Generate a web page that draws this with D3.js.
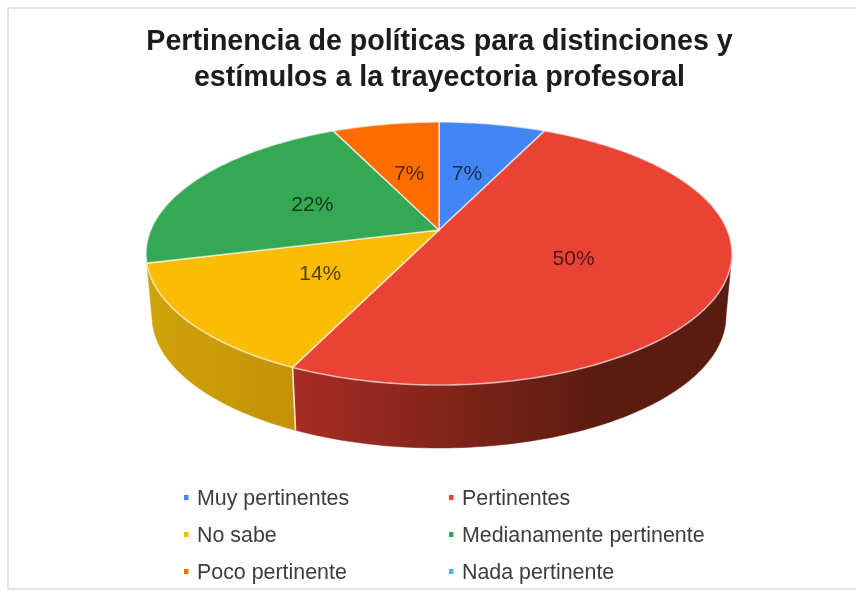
<!DOCTYPE html>
<html>
  <head>
    <meta charset="utf-8">
    <title>Pertinencia de políticas</title>
    <style type="text/css">
      body{ margin: 0; background: #fff; }
      text{ font-family: "Liberation Sans", Arial, sans-serif; }
    </style>
    <script src="https://d3js.org/d3.v7.min.js"></script>
  </head>
  <body>
    <svg class="chart"></svg>
    <script>

// chart values
var categories = ["Muy pertinentes", "Pertinentes", "No sabe", "Medianamente pertinente", "Poco pertinente", "Nada pertinente"];
var percents = [7, 50, 14, 22, 7, 0];
var colors = ["#4285f4", "#ea4335", "#fbbc04", "#34a853", "#ff6d01", "#46bdc6"];
var titleLines = ["Pertinencia de políticas para distinciones y", "estímulos a la trayectoria profesoral"];

var width = 856, height = 592;

var svg = d3.select(".chart")
    .attr("width", width)
    .attr("height", height)
    .style("display", "block");

// frame of the chart object
svg.append("path")
    .attr("d", "M856,8H8V589H856")
    .attr("fill", "none")
    .attr("stroke", "#dcdcdc")
    .attr("stroke-width", 1.5);

// soft look of the scanned picture
var defs = svg.append("defs");
defs.append("filter").attr("id", "soft")
  .append("feGaussianBlur").attr("stdDeviation", 0.5);

// title
svg.selectAll(".title")
  .data(titleLines)
  .enter().append("text")
    .attr("class", "title")
    .attr("x", 439.5)
    .attr("y", function(d, i) { return 50 + i * 36; })
    .attr("text-anchor", "middle")
    .attr("font-size", 28.6)
    .attr("font-weight", "bold")
    .attr("fill", "#1a1a1a")
    .attr("filter", "url(#soft)")
    .text(function(d) { return d; });

// unit disc -> screen, top ellipse and the lower one of the side wall
var xTop = d3.scaleLinear().domain([-1, 1]).range([146, 732]);
var yTop = d3.scaleLinear().domain([-1, 1]).range([122, 385]);
var xBottom = d3.scaleLinear().domain([-1, 1]).range([152, 726]);
var yBottom = d3.scaleLinear().domain([-1, 1]).range([184, 448]);

// perspective: the centre of the pie sits above the centre of the ellipse
var shift = 0.179;
function project(angle, r) {
  var x = r * Math.sin(angle), y = -r * Math.cos(angle);
  var k = 1 - shift * y;
  return [x * Math.sqrt(1 - shift * shift) / k, (y - shift) / k];
}
function arcPoints(a0, a1) {
  var n = Math.max(2, Math.ceil((a1 - a0) * 60)), out = [];
  for (var i = 0; i <= n; i++) out.push(project(a0 + (a1 - a0) * i / n, 1));
  return out;
}

var pie = d3.pie().sort(null).value(function(d) { return d; });
var slices = pie(percents);

var lineTop = d3.line().x(function(p) { return xTop(p[0]); }).y(function(p) { return yTop(p[1]); });
var lineBottom = d3.line().x(function(p) { return xBottom(p[0]); }).y(function(p) { return yBottom(p[1]); });

// side wall shading
var redGrad = defs.append("linearGradient").attr("id", "sideRed")
    .attr("gradientUnits", "userSpaceOnUse")
    .attr("x1", 292).attr("x2", 600).attr("y1", 0).attr("y2", 0);
redGrad.append("stop").attr("offset", 0).attr("stop-color", "#a92c24");
redGrad.append("stop").attr("offset", 1).attr("stop-color", "#5a1c10");
var yellowGrad = defs.append("linearGradient").attr("id", "sideYellow")
    .attr("gradientUnits", "userSpaceOnUse")
    .attr("x1", 150).attr("x2", 292).attr("y1", 0).attr("y2", 0);
yellowGrad.append("stop").attr("offset", 0).attr("stop-color", "#cea208");
yellowGrad.append("stop").attr("offset", 1).attr("stop-color", "#c49208");

var sideFill = {"Pertinentes": "url(#sideRed)", "No sabe": "url(#sideYellow)"};
var frontStart = Math.acos(-shift);

slices.forEach(function(s, i) {
  if (!sideFill[categories[i]]) return;
  var pts = arcPoints(Math.max(s.startAngle, frontStart), s.endAngle);
  var d = lineTop(pts) + "L" + lineBottom(pts.slice().reverse()).slice(1) + "Z";
  svg.append("path")
      .attr("d", d)
      .attr("fill", sideFill[categories[i]])
      .attr("stroke", sideFill[categories[i]])
      .attr("stroke-width", 0.5);
});

// seam between the yellow and the red wall
var seam = project(slices[1].endAngle, 1);
svg.append("line")
    .attr("x1", xTop(seam[0])).attr("y1", yTop(seam[1]))
    .attr("x2", xBottom(seam[0])).attr("y2", yBottom(seam[1]))
    .attr("stroke", "#fbe3cf")
    .attr("stroke-width", 1.6);

// top face
var apex = project(0, 0);
svg.selectAll(".slice")
  .data(slices.filter(function(s) { return s.value > 0; }))
  .enter().append("path")
    .attr("class", "slice")
    .attr("fill", function(d) { return colors[d.index]; })
    .attr("stroke", "#fff")
    .attr("stroke-opacity", 0.6)
    .attr("stroke-width", 1.6)
    .attr("stroke-linejoin", "round")
    .attr("d", function(d) {
      return lineTop([apex].concat(arcPoints(d.startAngle, d.endAngle))) + "Z";
    });

// percent labels halfway along the radius
svg.selectAll(".pct")
  .data(slices.filter(function(s) { return s.value > 0; }))
  .enter().append("text")
    .attr("class", "pct")
    .attr("x", function(d) { return xTop(project((d.startAngle + d.endAngle) / 2, 0.5)[0]) - 1; })
    .attr("y", function(d) { return yTop(project((d.startAngle + d.endAngle) / 2, 0.5)[1]) + 7; })
    .attr("text-anchor", "middle")
    .attr("font-size", 21)
    .attr("fill", "#000")
    .attr("fill-opacity", 0.68)
    .attr("filter", "url(#soft)")
    .text(function(d) { return d.value + "%"; });

// legend, two columns
var legendX = d3.scalePoint().domain([0, 1]).range([186, 451]);
var legendY = d3.scalePoint().domain([0, 1, 2]).range([498, 572]);

var legend = svg.selectAll(".legend")
  .data(categories)
  .enter().append("g")
    .attr("class", "legend")
    .attr("transform", function(d, i) {
      return "translate(" + legendX(i % 2) + "," + legendY(Math.floor(i / 2)) + ")";
    });

legend.append("rect")
    .attr("x", -2)
    .attr("y", -3)
    .attr("width", 4.5)
    .attr("height", 5)
    .attr("fill", function(d, i) { return colors[i]; })
    .attr("filter", "url(#soft)");

legend.append("text")
    .attr("x", 11)
    .attr("y", 7)
    .attr("font-size", 21.4)
    .attr("fill", "#3c3c3c")
    .attr("filter", "url(#soft)")
    .text(function(d) { return d; });

</script>
  </body>
</html>
